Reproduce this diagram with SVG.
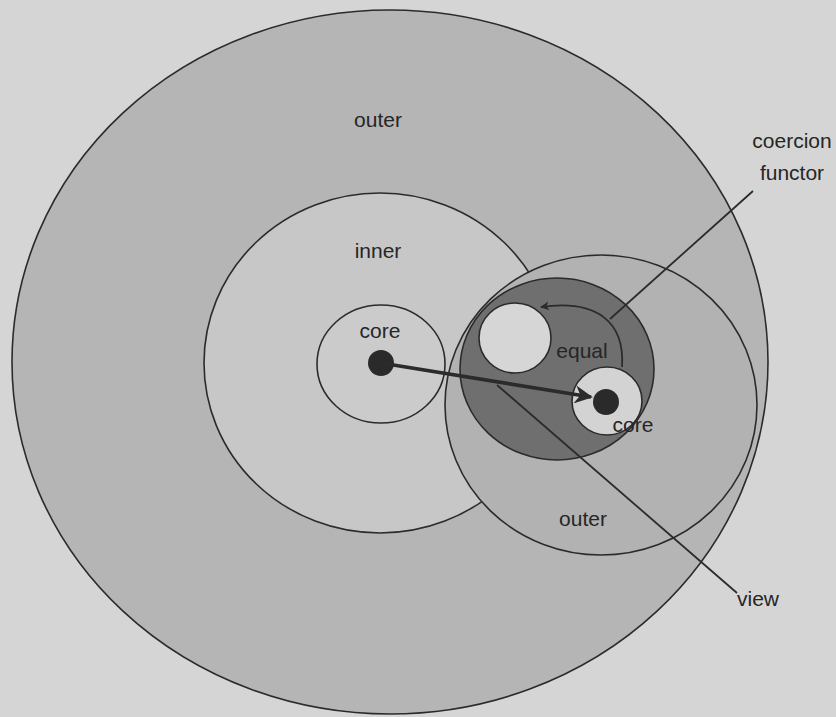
<svg xmlns="http://www.w3.org/2000/svg" width="836" height="717" viewBox="0 0 836 717">
  <style>
    .ring { stroke: #2b2b2b; stroke-width: 1.6; }
    .label { font-family: "Liberation Sans", Arial, sans-serif; font-size: 21px; fill: #262626; text-anchor: middle; }
    .wire { fill: none; stroke: #2b2b2b; stroke-width: 1.8; }
    .dot { fill: #2a2a2a; }
  </style>
  <defs>
    <marker id="head" viewBox="0 0 10 10" refX="9" refY="5" markerWidth="5" markerHeight="5" orient="auto" markerUnits="strokeWidth">
      <path d="M0,0 L10,5 L0,10 L3,5 Z" fill="#2b2b2b"/>
    </marker>
    <marker id="headSmall" viewBox="0 0 10 10" refX="9" refY="5" markerWidth="5" markerHeight="5" orient="auto" markerUnits="strokeWidth">
      <path d="M0,0 L10,5 L0,10 L3,5 Z" fill="#2b2b2b"/>
    </marker>
  </defs>

  <!-- page -->
  <rect width="836" height="717" fill="#d5d5d5"/>

  <!-- outer scope -->
  <g id="outer">
    <ellipse class="ring" cx="390" cy="362" rx="378" ry="352" fill="#b5b5b5"/>
    <text class="label" x="378" y="127">outer</text>
  </g>

  <!-- inner scope -->
  <g id="inner">
    <ellipse class="ring" cx="380" cy="363" rx="176" ry="170" fill="#c7c7c7"/>
    <text class="label" x="378" y="258">inner</text>
  </g>

  <!-- left core -->
  <g id="core-left">
    <ellipse class="ring" cx="381" cy="364" rx="64" ry="59" fill="#cbcbcb"/>
    <circle class="dot" cx="381" cy="363" r="13"/>
    <text class="label" x="380" y="338">core</text>
  </g>

  <!-- right outer scope -->
  <g id="outer-right">
    <ellipse class="ring" cx="601" cy="405" rx="156" ry="150" fill="#b2b2b2"/>
    <text class="label" x="583" y="526">outer</text>
  </g>

  <!-- equal region -->
  <g id="equal">
    <ellipse class="ring" cx="557" cy="369" rx="97" ry="91" fill="#6f6f6f" stroke-width="2.4"/>
    <ellipse class="ring" cx="515" cy="338" rx="36" ry="35" fill="#d6d6d6"/>
    <text class="label" x="582" y="358" fill="#505050">equal</text>
  </g>

  <!-- right core -->
  <g id="core-right">
    <ellipse class="ring" cx="607" cy="401" rx="35" ry="34" fill="#d3d3d3" stroke-width="2.4"/>
    <circle class="dot" cx="606" cy="402" r="13"/>
  </g>

  <!-- connectors -->
  <g id="connectors">
    <line x1="381" y1="363" x2="591" y2="397" stroke="#2b2b2b" stroke-width="3.6" marker-end="url(#head)"/>
    <path class="wire" d="M622,367 C625,322 597,299 541,307" stroke-width="2.6" marker-end="url(#headSmall)"/>
    <line class="wire" x1="753" y1="191" x2="610" y2="319"/>
    <line class="wire" x1="497" y1="385" x2="737" y2="593"/>
  </g>

  <!-- callout labels -->
  <g id="labels">
    <text class="label" x="633" y="432">core</text>
    <text class="label" x="792" y="148">coercion</text>
    <text class="label" x="792" y="180">functor</text>
    <text class="label" x="758" y="606">view</text>
  </g>
</svg>
